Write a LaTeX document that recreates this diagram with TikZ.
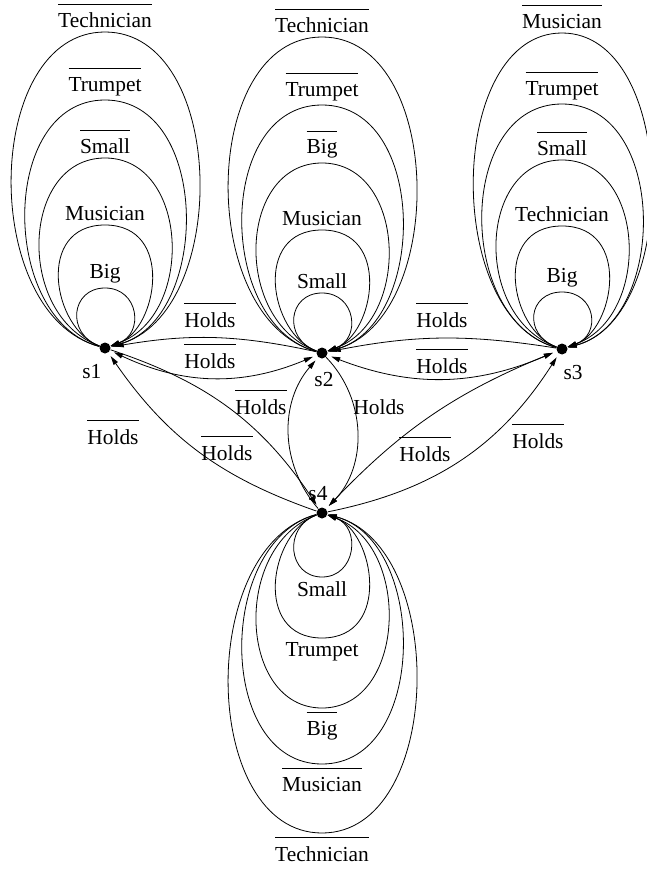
\documentclass[tikz,border=0pt]{standalone}
\usepackage{fontspec}
\setmainfont{Liberation Serif}
\usetikzlibrary{positioning, arrows.meta}
\newcommand{\neglab}[1]{\vbox{\hrule height 0.9pt\kern 8pt\hbox{#1}}}

\begin{document}
\begin{tikzpicture}
  [x=1pt,y=1pt,line width=0.8pt,font=\fontsize{21.4pt}{25pt}\selectfont,
   >={Triangle[length=9pt,width=5pt]},
   worldpoint/.style={circle,fill,inner sep=0pt,minimum size=11pt},
   namelabel/.style={inner sep=1pt},
   looplabel/.style={anchor=south,inner sep=4pt},
   looplabeldown/.style={anchor=north,inner sep=4pt},
   edgelabel/.style={anchor=base,inner sep=1pt}]
  \useasboundingbox (0,0) rectangle (646,-869);
  % worlds
  \node (s1) [worldpoint] at (105,-348) {};
  \node (s2) [worldpoint] at (322,-353) {};
  \node (s3) [worldpoint] at (562,-349) {};
  \node (s4) [worldpoint] at (322,-513) {};
  \node (s1name) [namelabel,below left=11pt and -2pt of s1] {s1};
  \node (s2name) [namelabel,below=12pt of s2,xshift=2pt] {s2};
  \node (s3name) [namelabel,below right=11pt and -4pt of s3] {s3};
  \node (s4name) [namelabel,above=5pt of s4,xshift=-4pt] {s4};
  % loops of s1
  \node (s1big) [looplabel] at (105,-288) {Big};
  \node (s1musician) [looplabel] at (105,-225) {Musician};
  \node (s1small) [looplabel] at (105,-158) {\neglab{Small}};
  \node (s1trumpet) [looplabel] at (105,-100) {\neglab{Trumpet}};
  \node (s1technician) [looplabel] at (105,-32) {\neglab{Technician}};
  \draw [->] (s1) to [out=160,in=180,out distance=36pt,in distance=34pt] (s1big.south)
    to [out=0,in=20,out distance=34pt,in distance=36pt] (s1);
  \draw [->] (s1) to [out=160,in=180,out distance=50pt,in distance=70pt] (s1musician.south)
    to [out=0,in=20,out distance=70pt,in distance=50pt] (s1);
  \draw [->] (s1) to [out=160,in=180,out distance=90pt,in distance=84pt] (s1small.south)
    to [out=0,in=20,out distance=84pt,in distance=90pt] (s1);
  \draw [->] (s1) to [out=165,in=180,out distance=104pt,in distance=106pt] (s1trumpet.south)
    to [out=0,in=15,out distance=106pt,in distance=104pt] (s1);
  \draw [->] (s1) to [out=165,in=180,out distance=125pt,in distance=122pt] (s1technician.south)
    to [out=0,in=15,out distance=122pt,in distance=125pt] (s1);
  % loops of s2
  \node (s2small) [looplabel] at (322,-293) {Small};
  \node (s2musician) [looplabel] at (322,-230) {Musician};
  \node (s2big) [looplabel] at (322,-163) {\neglab{Big}};
  \node (s2trumpet) [looplabel] at (322,-105) {\neglab{Trumpet}};
  \node (s2technician) [looplabel] at (322,-37) {\neglab{Technician}};
  \draw [->] (s2) to [out=160,in=180,out distance=36pt,in distance=34pt] (s2small.south)
    to [out=0,in=20,out distance=34pt,in distance=36pt] (s2);
  \draw [->] (s2) to [out=160,in=180,out distance=50pt,in distance=70pt] (s2musician.south)
    to [out=0,in=20,out distance=70pt,in distance=50pt] (s2);
  \draw [->] (s2) to [out=160,in=180,out distance=90pt,in distance=84pt] (s2big.south)
    to [out=0,in=20,out distance=84pt,in distance=90pt] (s2);
  \draw [->] (s2) to [out=165,in=180,out distance=104pt,in distance=106pt] (s2trumpet.south)
    to [out=0,in=15,out distance=106pt,in distance=104pt] (s2);
  \draw [->] (s2) to [out=165,in=180,out distance=125pt,in distance=122pt] (s2technician.south)
    to [out=0,in=15,out distance=122pt,in distance=125pt] (s2);
  % loops of s3
  \node (s3big) [looplabel] at (562,-292) {Big};
  \node (s3technician) [looplabel] at (562,-226) {Technician};
  \node (s3small) [looplabel] at (562,-160) {\neglab{Small}};
  \node (s3trumpet) [looplabel] at (562,-104) {\neglab{Trumpet}};
  \node (s3musician) [looplabel] at (562,-33) {\neglab{Musician}};
  \draw [->] (s3) to [out=160,in=180,out distance=36pt,in distance=34pt] (s3big.south)
    to [out=0,in=20,out distance=34pt,in distance=36pt] (s3);
  \draw [->] (s3) to [out=160,in=180,out distance=50pt,in distance=70pt] (s3technician.south)
    to [out=0,in=20,out distance=70pt,in distance=50pt] (s3);
  \draw [->] (s3) to [out=160,in=180,out distance=90pt,in distance=84pt] (s3small.south)
    to [out=0,in=20,out distance=84pt,in distance=90pt] (s3);
  \draw [->] (s3) to [out=165,in=180,out distance=104pt,in distance=106pt] (s3trumpet.south)
    to [out=0,in=15,out distance=106pt,in distance=104pt] (s3);
  \draw [->] (s3) to [out=165,in=180,out distance=118pt,in distance=115pt] (s3musician.south)
    to [out=0,in=15,out distance=115pt,in distance=118pt] (s3);
  % loops of s4
  \node (s4small) [looplabeldown] at (322,-577) {Small};
  \node (s4trumpet) [looplabeldown] at (322,-638) {Trumpet};
  \node (s4big) [looplabeldown] at (322,-708) {\neglab{Big}};
  \node (s4musician) [looplabeldown] at (322,-764) {\neglab{Musician}};
  \node (s4technician) [looplabeldown] at (322,-833) {\neglab{Technician}};
  \draw [->] (s4) to [out=200,in=180,out distance=36pt,in distance=34pt] (s4small.north)
    to [out=0,in=340,out distance=34pt,in distance=36pt] (s4);
  \draw [->] (s4) to [out=200,in=180,out distance=50pt,in distance=70pt] (s4trumpet.north)
    to [out=0,in=340,out distance=70pt,in distance=50pt] (s4);
  \draw [->] (s4) to [out=200,in=180,out distance=90pt,in distance=84pt] (s4big.north)
    to [out=0,in=340,out distance=84pt,in distance=90pt] (s4);
  \draw [->] (s4) to [out=195,in=180,out distance=104pt,in distance=106pt] (s4musician.north)
    to [out=0,in=345,out distance=106pt,in distance=104pt] (s4);
  \draw [->] (s4) to [out=195,in=180,out distance=125pt,in distance=122pt] (s4technician.north)
    to [out=0,in=345,out distance=122pt,in distance=125pt] (s4);
  % edges between worlds
  \draw [->,shorten >=4pt] (s2) to [bend right=11] (s1);
  \draw [<->,shorten >=4pt,shorten <=4pt] (s1) to [bend right=24] (s2);
  \draw [->,shorten >=4pt] (s3) to [bend right=10] (s2);
  \draw [<->,shorten >=4pt,shorten <=4pt] (s2) to [bend right=22] (s3);
  \draw [->,shorten >=4pt] (s4) to [bend left=18] (s1);
  \draw [->,shorten >=4pt] (s1) to [bend left=19] (s4);
  \draw [->,shorten >=4pt] (s4) to [bend left=41] (s2);
  \draw [->,shorten >=4pt] (s2) to [bend left=44] (s4);
  \draw [<->,shorten >=4pt,shorten <=4pt] (s3) to [bend right=12] (s4);
  \draw [->,shorten >=4pt] (s4) to [bend right=23] (s3);
  % edge labels
  \node (h12up) [edgelabel] at (210,-327) {\neglab{Holds}};
  \node (h12low) [edgelabel] at (210,-368) {\neglab{Holds}};
  \node (h23up) [edgelabel] at (442,-327) {\neglab{Holds}};
  \node (h23low) [edgelabel] at (442,-373) {\neglab{Holds}};
  \node (h14out) [edgelabel] at (113,-444) {\neglab{Holds}};
  \node (h14in) [edgelabel] at (227,-460) {\neglab{Holds}};
  \node (h24left) [edgelabel] at (261,-414) {\neglab{Holds}};
  \node (h24right) [edgelabel] at (379,-414) {Holds};
  \node (h34in) [edgelabel] at (425,-461) {\neglab{Holds}};
  \node (h34out) [edgelabel] at (538,-448) {\neglab{Holds}};
\end{tikzpicture}
\end{document}
